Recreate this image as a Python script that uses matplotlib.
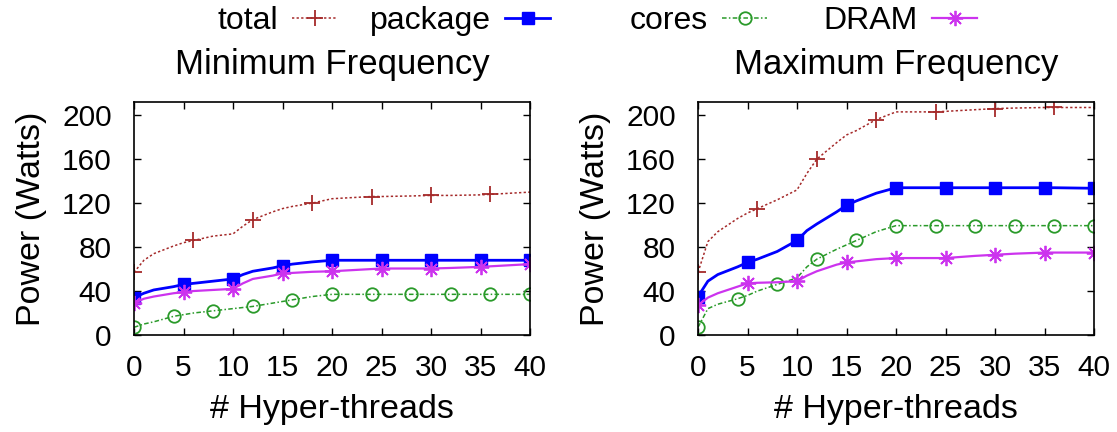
import numpy as np
import matplotlib
matplotlib.use("Agg")
import matplotlib.pyplot as plt
from matplotlib.lines import Line2D

plt.rcParams['font.family'] = ['Liberation Sans', 'DejaVu Sans']

# Datos
threads = [0, 1, 2, 4, 5, 6, 8, 10, 11, 12, 14, 15, 16, 18, 20, 24, 25, 28, 30, 32, 35, 36, 40]

min_total   = [57, 68, 74, 81, 84, 86, 90, 92, 99, 105, 112, 115, 117, 120, 124, 126, 126, 126.5, 127, 127, 127.5, 128, 130]
min_package = [34, 38, 41, 44, 46, 47, 49, 51, 55, 58, 61, 63, 64.5, 66.5, 68, 68, 68, 68, 68, 68, 68, 68, 68]
min_cores   = [7, 10, 12, 17, 18.5, 20, 22, 24, 25, 26, 29, 30.5, 32, 35, 37, 37, 37, 37, 37, 37, 37, 37, 37]
min_dram    = [29, 33, 35, 38, 39, 40, 41, 42, 47, 51, 54, 56, 56.5, 57.5, 58, 60, 60.5, 60.5, 60.5, 61, 62, 62.5, 64.5]

max_total   = [57, 85, 94, 106, 111, 115, 123, 132, 147, 160, 175, 182, 186, 196, 203, 203, 203.5, 205, 206, 206.5, 207, 207, 207]
max_package = [35, 49, 55, 62, 66, 69, 76, 86, 95, 101, 112, 118, 122, 129, 134, 134, 134, 134, 134, 134, 134, 134, 133.5]
max_cores   = [7, 24, 28, 33, 36, 40, 46, 52, 62, 69, 78, 82, 86, 94, 99.5, 99.5, 99.5, 99.5, 99.5, 99.5, 99.5, 99.5, 99.5]
max_dram    = [27, 34, 38, 44, 47, 47.5, 48, 49, 54, 58, 64, 66, 67, 69, 70, 70, 70, 72, 73, 74, 75, 75, 75]

labels = ["total", "package", "cores", "DRAM"]
titles = ["Minimum Frequency", "Maximum Frequency"]
x_ticks = [0, 5, 10, 15, 20, 25, 30, 35, 40]
y_ticks = [0, 40, 80, 120, 160, 200]

# Estilos (tipo gnuplot)
styles = [
    dict(color="#a52a2a", linestyle=(0, (1.5, 1.5)), linewidth=1.1, marker="+", markersize=11, markeredgewidth=1.3, step=6),
    dict(color="#0000ff", linestyle="-", linewidth=2.0, marker="s", markersize=8.5, markeredgewidth=1.0, step=5),
    dict(color="#2a9a2a", linestyle=(0, (3, 1.5, 1, 1.5)), linewidth=1.1, marker="o", markersize=9, markeredgewidth=1.3,
         markerfacecolor="none", step=4),
    dict(color="#cc33ee", linestyle="-", linewidth=1.6, marker=(8, 2, 0), markersize=11, markeredgewidth=1.3, step=5),
]

panels = [
    [min_total, min_package, min_cores, min_dram],
    [max_total, max_package, max_cores, max_dram],
]

fig = plt.figure(figsize=(11.17, 4.32), dpi=100)
ax_lefts = [134 / 1117, 698 / 1117]
for k in range(2):
    ax = fig.add_axes([ax_lefts[k], 97 / 432, 396 / 1117, 233 / 432])
    for series, st in zip(panels[k], styles):
        st = dict(st)
        step = st.pop("step")
        mev = [i for i, t in enumerate(threads) if t % step == 0]
        ax.plot(threads, series, markevery=mev, **st)

    ax.set_xlim(0, 40)
    ax.set_ylim(0, 212)
    ax.set_xticks(x_ticks)
    ax.set_yticks(y_ticks)
    ax.tick_params(direction="in", length=5, width=1.0, top=True, right=True,
                   labelsize=21.5, pad=14)
    ax.tick_params(axis="y", pad=16)
    for sp in ax.spines.values():
        sp.set_linewidth(1.2)
    ax.set_xlabel("# Hyper-threads", fontsize=24.5, labelpad=8)
    ax.set_ylabel("Power (Watts)", fontsize=24.5, labelpad=11)
    ax.set_title(titles[k], fontsize=25, pad=20)

# Leyenda: texto a la izquierda, muestra a la derecha (estilo gnuplot)
legend_right = [337, 550, 767, 977]
for lab, st, xr in zip(labels, styles, legend_right):
    st = dict(st)
    st.pop("step")
    h = Line2D([], [], **st)
    fig.legend([h], [lab], loc="center right", bbox_to_anchor=(xr / 1117, 1 - 21 / 432),
               frameon=False, markerfirst=False, fontsize=23, handlelength=1.4,
               handletextpad=0.45, borderpad=0, borderaxespad=0, numpoints=1)

fig.savefig("out.png", dpi=100)
plt.close(fig)
